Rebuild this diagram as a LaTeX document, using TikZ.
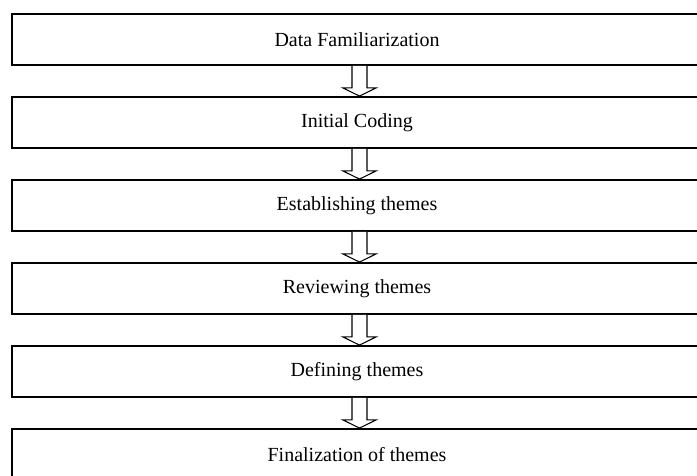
\documentclass[tikz,border=0pt]{standalone}
\usepackage{fontspec}
\setmainfont{Liberation Serif}
\usetikzlibrary{calc}
\begin{document}
\begin{tikzpicture}[x=1pt,y=1pt,
  stepbox/.style={draw, line width=1.8pt, minimum width=690pt, minimum height=51pt,
    inner sep=0pt, font=\fontsize{20}{24}\selectfont},
  hollow/.style={draw, line width=1.1pt, fill=white, line join=miter}]
\clip (0,0) rectangle (697,-475);
\fill[white] (0,0) rectangle (697,-475);
\node[stepbox] (b1) at (357,-39.5) {Data Familiarization};
\node[stepbox] (b2) at (357,-122.5) {Initial Coding};
\node[stepbox] (b3) at (357,-205.5) {Establishing themes};
\node[stepbox] (b4) at (357,-288.5) {Reviewing themes};
\node[stepbox] (b5) at (357,-371.5) {Defining themes};
\node[stepbox] (b6) at (357,-454.5) {Finalization of themes};
\foreach \a/\b in {b1/b2,b2/b3,b3/b4,b4/b5,b5/b6}{
  \draw[hollow] ($(\a.south)+(-5,0)$) -- ($(\a.south)+(-5,-22)$) -- ($(\a.south)+(-14,-22)$)
    -- ($(\b.north)+(2.5,0)$) -- ($(\a.south)+(19,-22)$) -- ($(\a.south)+(10,-22)$)
    -- ($(\a.south)+(10,0)$);
}
\end{tikzpicture}
\end{document}
